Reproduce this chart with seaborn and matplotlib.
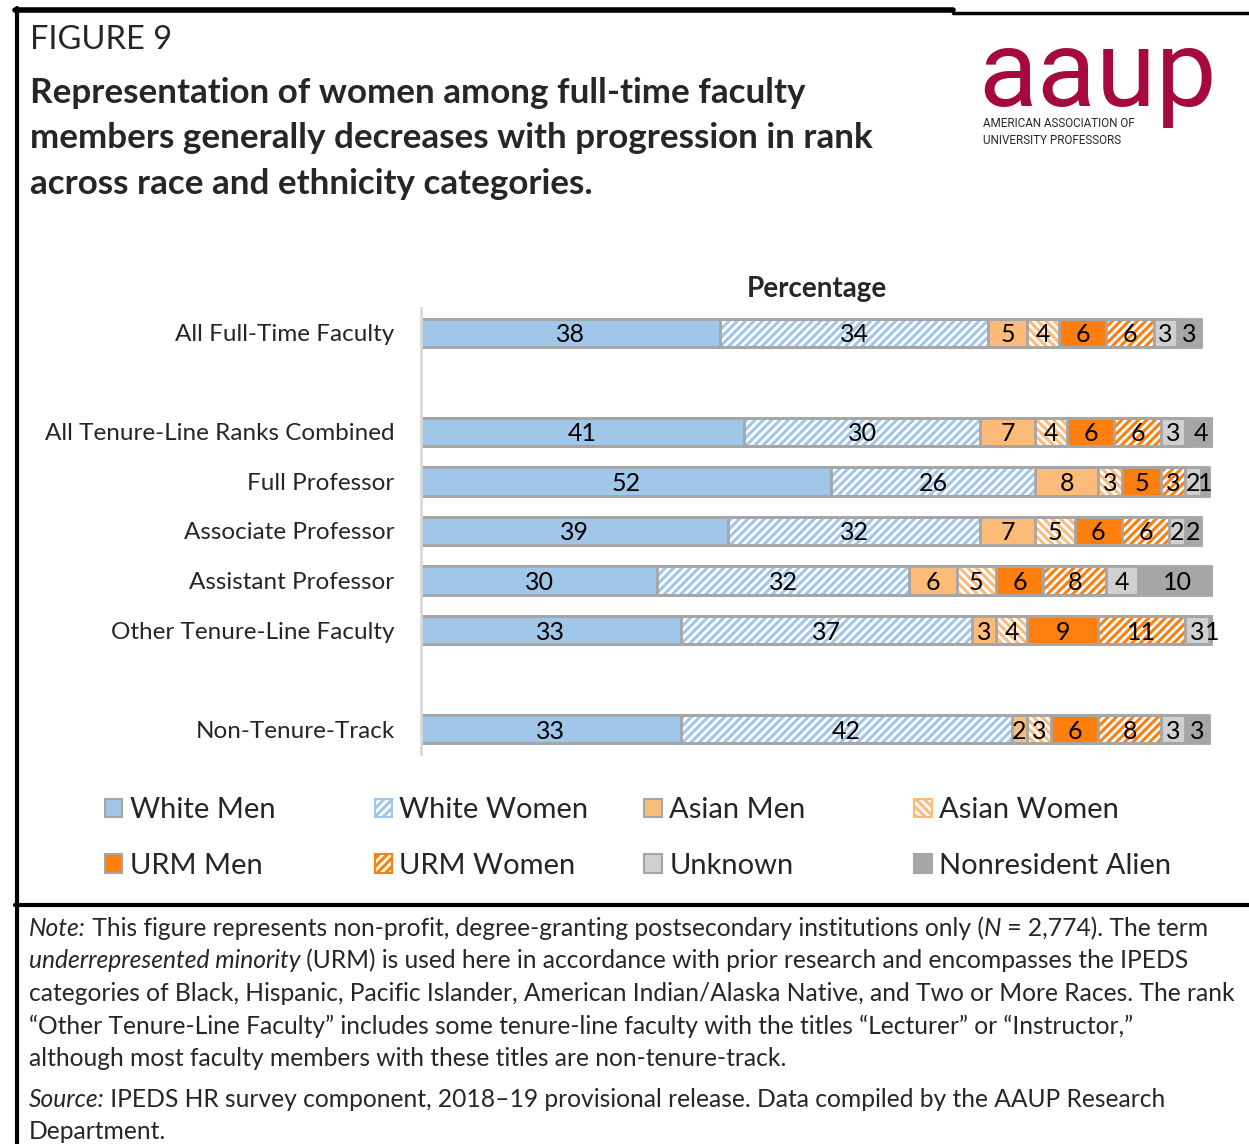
import numpy as np
import pandas as pd
import seaborn as sns
import matplotlib.pyplot as plt
from matplotlib.patches import Patch
from matplotlib.lines import Line2D

# ---- data ----
ranks = ["All Full-Time Faculty", "All Tenure-Line Ranks Combined", "Full Professor",
         "Associate Professor", "Assistant Professor", "Other Tenure-Line Faculty",
         "Non-Tenure-Track"]
# blank slots keep the gaps of the original layout
order = ["All Full-Time Faculty", "", "All Tenure-Line Ranks Combined", "Full Professor",
         "Associate Professor", "Assistant Professor", "Other Tenure-Line Faculty", " ",
         "Non-Tenure-Track"]

groups = ["White Men", "White Women", "Asian Men", "Asian Women",
          "URM Men", "URM Women", "Unknown", "Nonresident Alien"]

white_men = [38, 41, 52, 39, 30, 33, 33]
white_women = [34, 30, 26, 32, 32, 37, 42]
asian_men = [5, 7, 8, 7, 6, 3, 2]
asian_women = [4, 4, 3, 5, 5, 4, 3]
urm_men = [6, 6, 5, 6, 6, 9, 6]
urm_women = [6, 6, 3, 6, 8, 11, 8]
unknown = [3, 3, 2, 2, 4, 3, 3]
nonresident = [3, 4, 1, 2, 10, 1, 3]

face = ["#A0C6EA", "white", "#FDBB7A", "white", "#FF7F0E", "white", "#D0D0D0", "#A6A6A6"]
hatch_col = [None, "#A0C6EA", None, "#FDBB7A", None, "#FF7F0E", None, None]
hatches = [None, "////", None, "\\\\\\\\", None, "////", None, None]
EDGE = "#A6A6A6"

df = pd.DataFrame({"rank": ranks, "White Men": white_men, "White Women": white_women,
                   "Asian Men": asian_men, "Asian Women": asian_women,
                   "URM Men": urm_men, "URM Women": urm_women,
                   "Unknown": unknown, "Nonresident Alien": nonresident})
cum = df[groups].cumsum(axis=1)
left = cum - df[groups]

sns.set_style("white")
plt.rcParams["font.family"] = ["Lato", "DejaVu Sans"]
plt.rcParams["hatch.linewidth"] = 2.2

fig = plt.figure(figsize=(12.49, 11.44), dpi=100)
ax = fig.add_axes([0.337, 0.3409, 0.6345, 0.3899])

# stacked bars drawn as overlapping cumulative layers, longest first
for i in reversed(range(len(groups))):
    plot_df = pd.DataFrame({"rank": df["rank"], "val": cum[groups[i]]})
    kws = dict(linewidth=0)
    if hatches[i]:
        kws.update(hatch=hatches[i], edgecolor=hatch_col[i])
    sns.barplot(data=plot_df, y="rank", x="val", order=order, orient="h",
                color=face[i], saturation=1, width=0.57, errorbar=None, ax=ax, **kws)

# grey outlines for each segment
for i in reversed(range(len(groups))):
    plot_df = pd.DataFrame({"rank": df["rank"], "val": cum[groups[i]]})
    sns.barplot(data=plot_df, y="rank", x="val", order=order, orient="h",
                color=EDGE, fill=False, saturation=1, width=0.57, errorbar=None,
                linewidth=2, ax=ax)

# value labels centred in each segment
ypos = {r: order.index(r) for r in ranks}
for g in groups:
    for j, r in enumerate(ranks):
        ax.text(left.loc[j, g] + df.loc[j, g] / 2, ypos[r], str(df.loc[j, g]),
                ha="center", va="center_baseline", fontsize=18, color="black")

ax.set_xlim(0, 100.6)
ax.set_xlabel("")
ax.set_ylabel("")
ax.set_xticks([])
ax.tick_params(axis="y", length=0, pad=19, labelsize=17.5)
for s in ["top", "right", "bottom"]:
    ax.spines[s].set_visible(False)
ax.spines["left"].set_color("#D9D9D9")
ax.spines["left"].set_linewidth(2)
ax.set_title("Percentage", fontsize=20, fontweight="bold", pad=8)

# legend: four columns of two entries each
handles = []
for i, g in enumerate(groups):
    if hatches[i]:
        handles.append(Patch(facecolor="white", edgecolor=hatch_col[i], hatch=hatches[i],
                             linewidth=1.5, label=g))
    else:
        handles.append(Patch(facecolor=face[i], edgecolor=EDGE, linewidth=1.5, label=g))
col_x = [0.084, 0.300, 0.516, 0.732]
for c in range(4):
    fig.legend(handles=[handles[c], handles[c + 4]], loc="upper left",
               bbox_to_anchor=(col_x[c], 0.3030), frameon=False, fontsize=21,
               handlelength=0.6, handleheight=0.6, handletextpad=0.25,
               labelspacing=1.0, borderpad=0, borderaxespad=0)

# header
fig.text(0.024, 1 - 40 / 1144, "FIGURE 9", fontsize=23.5, va="center")
title_lines = ["Representation of women among full-time faculty",
               "members generally decreases with progression in rank",
               "across race and ethnicity categories."]
for k, line in enumerate(title_lines):
    fig.text(0.024, 1 - (93 + 45.5 * k) / 1144, line, fontsize=25.2, fontweight="bold",
             va="center")

# logo
crimson = "#A6093D"
logo_font = ["Liberation Sans Narrow", "Roboto", "DejaVu Sans"]
fig.text(0.974, 1 - 106 / 1144, "aaup", fontsize=78, color=crimson, ha="right",
         va="baseline", family=logo_font)
fig.text(0.787, 1 - 124 / 1144, "AMERICAN ASSOCIATION OF", fontsize=8.4, va="center",
         family=logo_font)
fig.text(0.787, 1 - 140 / 1144, "UNIVERSITY PROFESSORS", fontsize=8.4, va="center",
         family=logo_font)

# frame lines
fig.add_artist(Line2D([0.012, 0.763], [1 - 10 / 1144] * 2, color="black", lw=4))
fig.add_artist(Line2D([0.763, 1.0], [1 - 13 / 1144] * 2, color="black", lw=2.5))
fig.add_artist(Line2D([0.0135, 0.0135], [0, 1 - 8 / 1144], color="black", lw=3))
fig.add_artist(Line2D([0.012, 1.0], [1 - 905 / 1144] * 2, color="black", lw=3))

# notes, with italic pieces chained on one baseline
NOTE_SIZE = 17.7
notes = [
    [("Note:", True), (" This figure represents non-profit, degree-granting postsecondary institutions only (", False),
     ("N", True), (" = 2,774). The term", False)],
    [("underrepresented minority", True), (" (URM) is used here in accordance with prior research and encompasses the IPEDS", False)],
    [("categories of Black, Hispanic, Pacific Islander, American Indian/Alaska Native, and Two or More Races. The rank", False)],
    [("\u201cOther Tenure-Line Faculty\u201d includes some tenure-line faculty with the titles \u201cLecturer\u201d or \u201cInstructor,\u201d", False)],
    [("although most faculty members with these titles are non-tenure-track.", False)],
    [("Source:", True), (" IPEDS HR survey component, 2018\u201319 provisional release. Data compiled by the AAUP Research", False)],
    [("Department.", False)],
]
note_y = [927, 959, 992, 1025, 1057, 1098, 1130]
for parts, yc in zip(notes, note_y):
    y = 1 - (yc + 13) / 1144
    prev = fig.text(0.023, y, parts[0][0], fontsize=NOTE_SIZE, va="bottom",
                    style="italic" if parts[0][1] else "normal")
    for txt, it in parts[1:]:
        prev = ax.annotate(txt, xy=(1, 0), xycoords=prev, va="bottom", ha="left",
                           fontsize=NOTE_SIZE, style="italic" if it else "normal",
                           annotation_clip=False)

fig.savefig("out.png", dpi=100)
